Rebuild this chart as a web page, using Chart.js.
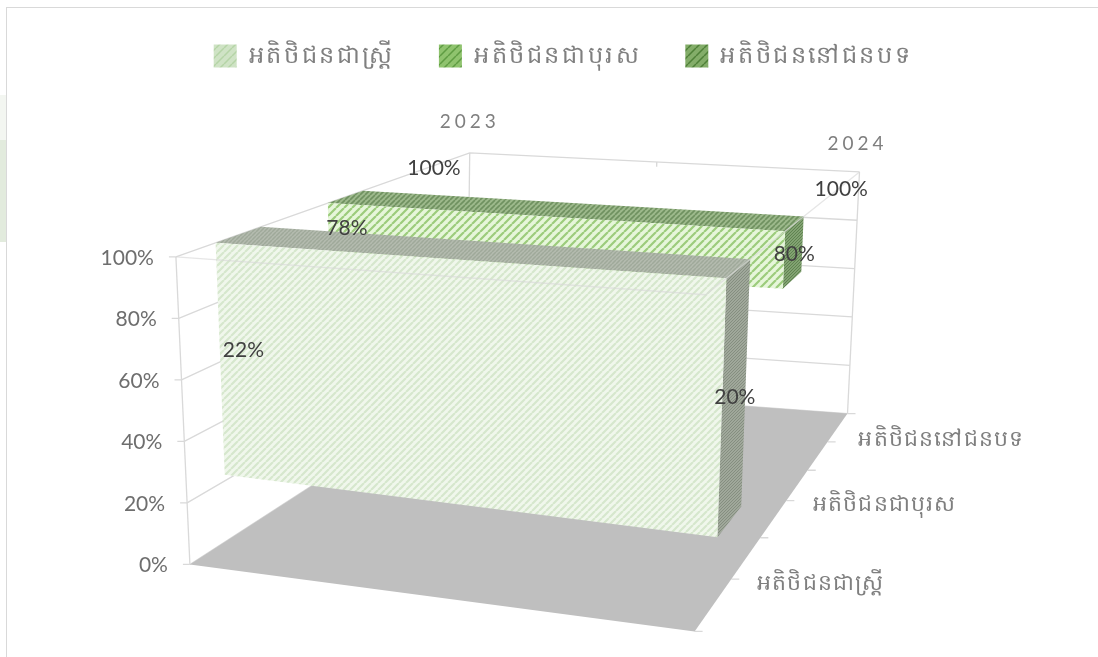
<!DOCTYPE html>
<html>
<head>
<meta charset="utf-8">
<style>
html, body { margin: 0; padding: 0; background: #fff; overflow: hidden; }
#wrap { position: relative; width: 1098px; height: 657px; }
#frame { position: absolute; left: 6px; top: 7px; right: -2px; bottom: -2px; border: 1px solid #d9d9d9; }
#blob { position: absolute; left: 0; top: 140px; width: 6px; height: 102px; background: #e2ebdd; }
#blob2 { position: absolute; left: 0; top: 95px; width: 6px; height: 45px; background: #f3f6f1; }
canvas { position: absolute; left: 0; top: 0; }
</style>
</head>
<body>
<div id="wrap">
  <div id="blob2"></div><div id="blob"></div><div id="frame"></div>
  <canvas id="myChart" width="1098" height="657"></canvas>
</div>
<script src="https://cdn.jsdelivr.net/npm/chart.js@4"></script>
<script>
const years = ['2023', '2024'];
const seriesNames = ['អតិថិជនជាស្ត្រី', 'អតិថិជនជាបុរស', 'អតិថិជននៅជនបទ'];
const women = [22, 20];
const men = [78, 80];
const rural = [100, 100];
const pctTicks = [0, 20, 40, 60, 80, 100];
const topValue = 100;

// corners of the 3D box on the page, [front, back] at [floor, top]
const box = {
  left: { floor: [[190, 565], [467, 386]], top: [[176, 257], [470, 153]] },
  right: { floor: [[695, 632], [848, 414]], top: [[706, 295], [860, 172]] }
};
// depth slot of each series inside the box
const slots = [[0.135, 0.29], [0.517, 0.637], [0.83, 0.92]];
const depthTicks = [0, 0.24, 0.43, 0.6, 0.74, 0.87, 1];

function mix(a, b, t) {
  return [a[0] + (b[0] - a[0]) * t, a[1] + (b[1] - a[1]) * t];
}

// u = 0..1 along the years, d = 0..1 front to back, v = percent
function project(u, d, v) {
  const h = v / 100;
  const l = mix(mix(box.left.floor[0], box.left.floor[1], d), mix(box.left.top[0], box.left.top[1], d), h);
  const r = mix(mix(box.right.floor[0], box.right.floor[1], d), mix(box.right.top[0], box.right.top[1], d), h);
  return mix(l, r, u);
}

// y values live on the percent scale, so screen y is turned into that scale here
const y0 = 565, y100 = 257;
function toPct(py) {
  return (y0 - py) * 100 / (y0 - y100);
}
function pt(u, d, v) {
  const p = project(u, d, v);
  return { x: p[0], y: toPct(p[1]) };
}

function hatch(bg, fg, size, width) {
  const c = document.createElement('canvas');
  c.width = size;
  c.height = size;
  const g = c.getContext('2d');
  g.fillStyle = bg;
  g.fillRect(0, 0, size, size);
  g.strokeStyle = fg;
  g.lineWidth = width;
  g.beginPath();
  for (let i = -size; i <= size; i += size) {
    g.moveTo(i, size);
    g.lineTo(i + size, 0);
  }
  g.stroke();
  return g.createPattern(c, 'repeat');
}

const fills = [
  { front: hatch('#f0f7ec', '#d6e7cd', 7, 2.2), top: hatch('#b4bbaf', '#9fa99a', 4, 1.5), side: hatch('#a0a89b', '#858e80', 3, 1) },
  { front: hatch('#e6f6da', '#9ccc7c', 8, 2.2), top: hatch('#9db98c', '#6f9160', 5, 1.6), side: hatch('#82a272', '#5f8350', 3, 1) },
  { front: hatch('#cfe3c4', '#7fae66', 7, 2), top: hatch('#9db98c', '#6f9160', 5, 1.6), side: hatch('#82a272', '#5f8350', 3, 1) }
];
const legendFills = [
  hatch('#cfe3c5', '#b5d4a6', 8, 1.5),
  hatch('#8fc36e', '#5f9c43', 8, 1.5),
  hatch('#83ad69', '#4f8038', 8, 1.5)
];

function polygon(label, points, fill, order) {
  return { label: label, data: points, backgroundColor: fill, borderWidth: 0, fill: 'shape', showLine: true, pointRadius: 0, order: order };
}
function line(points, color, order) {
  return { data: points, borderColor: color, borderWidth: 1.3, fill: false, showLine: true, pointRadius: 0, order: order };
}

const GRID = '#d9d9d9';
const datasets = [];
const values = [women, men, rural];

values.forEach(function (vals, i) {
  const d = slots[i][0];
  datasets.push(polygon(seriesNames[i], [pt(0, d, topValue), pt(1, d, topValue), pt(1, d, vals[1]), pt(0, d, vals[0])], fills[i].front, 10 + i * 10));
});
values.forEach(function (vals, i) {
  if (vals[0] === topValue && vals[1] === topValue) return;
  const d0 = slots[i][0], d1 = slots[i][1];
  datasets.push(polygon('', [pt(0, d0, topValue), pt(1, d0, topValue), pt(1, d1, topValue), pt(0, d1, topValue)], fills[i].top, 11 + i * 10));
  datasets.push(polygon('', [pt(1, d0, topValue), pt(1, d1, topValue), pt(1, d1, vals[1]), pt(1, d0, vals[1])], fills[i].side, 11 + i * 10));
});

// floor
datasets.push(polygon('', [pt(0, 0, 0), pt(1, 0, 0), pt(1, 1, 0), pt(0, 1, 0)], '#bfbfbf', 50));

// walls
pctTicks.forEach(function (v) {
  datasets.push(line([pt(0, 0, v), pt(0, 1, v), pt(1, 1, v)], GRID, 60));
});
datasets.push(line([pt(0, 1, 0), pt(0, 1, topValue)], GRID, 60));
datasets.push(line([pt(1, 1, 0), pt(1, 1, topValue)], GRID, 60));
datasets.push(line([pt(0, 0, 0), pt(0, 0, topValue)], GRID, 60));
datasets.push(line([pt(0.48, 1, topValue), pt(0.48, 1, topValue - 2)], GRID, 60));

// the front edges of the top of the box stay visible over the bars
datasets.push(line([pt(0, 0, topValue), pt(1, 0, topValue), pt(1, 1, topValue)], 'rgba(217,217,217,0.65)', 1));

// tick marks
pctTicks.forEach(function (v) {
  const p = project(0, 0, v);
  datasets.push(line([{ x: p[0] - 7, y: toPct(p[1]) }, { x: p[0], y: toPct(p[1]) }], GRID, 60));
});
depthTicks.forEach(function (d) {
  const p = project(1, d, 0);
  datasets.push(line([{ x: p[0], y: toPct(p[1]) }, { x: p[0] + 8, y: toPct(p[1]) }], GRID, 60));
});

const textPlugin = {
  id: 'boxText',
  beforeUpdate: function (chart) {
    // legend text is spaced out in the reference
    chart.ctx.letterSpacing = '2.6px';
  },
  afterDraw: function (chart) {
    const ctx = chart.ctx;
    const sx = chart.scales.x, sy = chart.scales.y;
    function put(text, p, color, font, align, spacing) {
      ctx.save();
      ctx.font = font;
      ctx.fillStyle = color;
      ctx.textAlign = align;
      ctx.textBaseline = 'middle';
      ctx.letterSpacing = spacing || '0px';
      ctx.fillText(text, sx.getPixelForValue(p[0]), sy.getPixelForValue(toPct(p[1])));
      ctx.restore();
    }
    const tickFont = '21px Lato, "Noto Sans"';
    const khmerFont = '22px "Noto Sans", "DejaVu Sans", sans-serif';
    pctTicks.forEach(function (v) {
      const p = project(0, 0, v);
      put(v + '%', [p[0] - 22, p[1] + 1], '#6e6e6e', tickFont, 'right');
    });
    // value labels sit in the middle of each solid, between its value and the top
    values.forEach(function (vals, i) {
      const d = (slots[i][0] + slots[i][1]) / 2;
      vals.forEach(function (v, j) {
        const p = project(j, d, (v + topValue) / 2);
        put(v + '%', [p[0] + 1, p[1] + 2], '#404040', tickFont, 'center');
      });
    });
    put(years[0], [470, 122], '#7f7f7f', '19px Lato', 'center', '4px');
    put(years[1], [858, 144], '#7f7f7f', '19px Lato', 'center', '4px');
    seriesNames.forEach(function (name, i) {
      const p = project(1, (slots[i][0] + slots[i][1]) / 2, 0);
      put(name, [p[0] + 30, p[1] - 1], '#7f7f7f', khmerFont, 'left', '1.2px');
    });
  }
};

const config = {
  type: 'scatter',
  data: { datasets: datasets },
  plugins: [textPlugin],
  options: {
    responsive: false,
    animation: false,
    layout: { padding: { left: 28 } },
    scales: {
      x: { type: 'linear', display: false, min: 0, max: 1098 },
      y: { type: 'linear', display: false, min: 0, max: 100 }
    },
    plugins: {
      tooltip: { enabled: false },
      legend: {
        position: 'top',
        labels: {
          font: { size: 24, family: '"Noto Sans", "DejaVu Sans", sans-serif' },
          boxWidth: 23,
          boxHeight: 23,
          padding: 44,
          generateLabels: function () {
            return seriesNames.map(function (name, i) {
              return { text: name, fillStyle: legendFills[i], strokeStyle: 'transparent', fontColor: '#7f7f7f', lineWidth: 0, datasetIndex: i };
            });
          }
        }
      }
    }
  }
};

const myChart = new Chart(document.getElementById('myChart'), config);

// the legend takes the top of the canvas, so fit the scales to the area that is left
const area = myChart.chartArea;
config.options.scales.x.min = area.left;
config.options.scales.x.max = area.right;
config.options.scales.y.min = toPct(area.bottom);
config.options.scales.y.max = toPct(area.top);
myChart.update();
</script>
</body>
</html>
